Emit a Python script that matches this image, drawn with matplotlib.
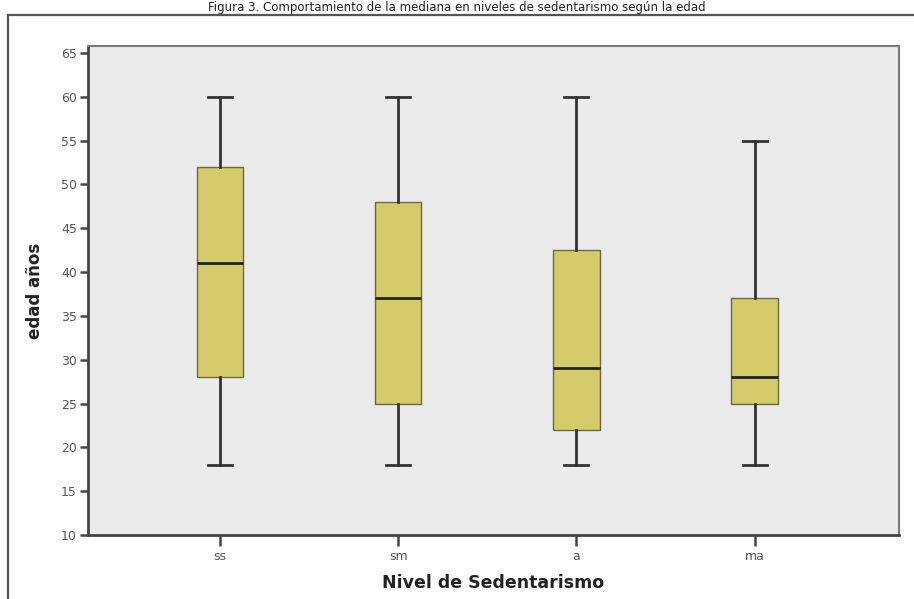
import matplotlib
matplotlib.use("Agg")
import matplotlib.pyplot as plt
from matplotlib.patches import Rectangle

categories = ["ss", "sm", "a", "ma"]
whislo = [18, 18, 18, 18]
q1 = [28, 25, 22, 25]
med = [41, 37, 29, 28]
q3 = [52, 48, 42.5, 37]
whishi = [60, 60, 60, 55]
yticks = [10, 15, 20, 25, 30, 35, 40, 45, 50, 55, 60, 65]

fig = plt.figure(figsize=(9.14, 5.99), dpi=100)
fig.patch.set_facecolor("white")

# outer frame
fig.patches.append(Rectangle((8/914, -0.05), 1.2, 1 - 15/599 + 0.05, transform=fig.transFigure,
                             fill=False, edgecolor="#555555", linewidth=1.6))

fig.text(0.5, 1 - 1/599, "Figura 3. Comportamiento de la mediana en niveles de sedentarismo según la edad",
         ha="center", va="top", fontsize=8.5, color="#222222")

ax = fig.add_axes([88/914, 1 - 535/599, (899 - 88)/914, (535 - 46)/599])
ax.set_facecolor("#ebebeb")

stats = []
for i, c in enumerate(categories):
    stats.append(dict(label=c, whislo=whislo[i], q1=q1[i], med=med[i], q3=q3[i], whishi=whishi[i], fliers=[]))

positions = list(range(1, len(categories) + 1))
ax.bxp(stats, positions=positions, widths=0.26, patch_artist=True, showfliers=False,
       boxprops=dict(facecolor="#d4cb6a", edgecolor="#6b6a45", linewidth=1.0),
       medianprops=dict(color="#222222", linewidth=2.0),
       whiskerprops=dict(color="#333333", linewidth=2.0),
       capprops=dict(color="#333333", linewidth=2.0),
       capwidths=0.135)

ax.set_xlim(0.26, 4.81)
ax.set_ylim(10, 65.8)
ax.set_yticks(yticks)
ax.set_xticks(positions)
ax.set_xticklabels(categories)

for s in ["left", "bottom"]:
    ax.spines[s].set_color("#444444")
    ax.spines[s].set_linewidth(2.0)
for s in ["top", "right"]:
    ax.spines[s].set_color("#777777")
    ax.spines[s].set_linewidth(1.5)

ax.tick_params(axis="y", direction="out", length=6, width=1.8, color="#444444",
               labelsize=9, labelcolor="#555555", pad=2)
ax.tick_params(axis="x", direction="out", length=8, width=1.8, color="#444444",
               labelsize=9, labelcolor="#555555", pad=3)

ax.set_xlabel("Nivel de Sedentarismo", fontsize=12.5, fontweight="bold", color="#222222", labelpad=8)
ax.set_ylabel("edad años", fontsize=12, fontweight="bold", color="#222222", labelpad=12,
              family=["Liberation Sans Narrow", "DejaVu Sans"])

fig.savefig("out.png", dpi=100)
